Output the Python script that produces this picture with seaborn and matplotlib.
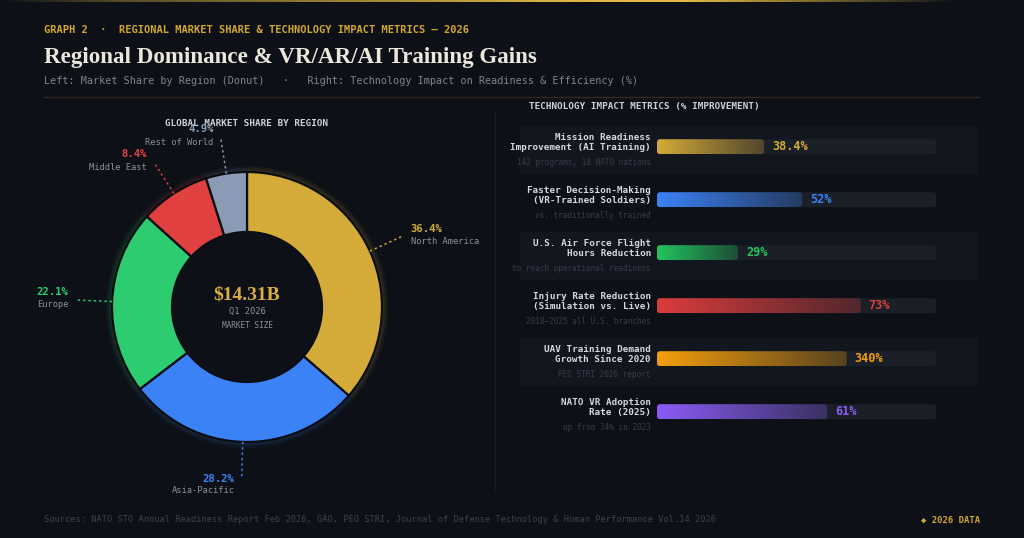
import numpy as np
import pandas as pd
import matplotlib
matplotlib.use("Agg")
import matplotlib.pyplot as plt
import seaborn as sns
from matplotlib.patches import FancyBboxPatch, Rectangle, Circle
import matplotlib.transforms as mtransforms
from matplotlib.colors import to_rgb

# ---------------- data ----------------
regions = ["North America", "Asia-Pacific", "Europe", "Middle East", "Rest of World"]
region_share = [36.4, 28.2, 22.1, 8.4, 4.9]
region_colors = ["#d4aa38", "#3b82f6", "#2ecc71", "#e04040", "#8c9bb5"]

metric_labels = [
    "Mission Readiness\nImprovement (AI Training)",
    "Faster Decision-Making\n(VR-Trained Soldiers)",
    "U.S. Air Force Flight\nHours Reduction",
    "Injury Rate Reduction\n(Simulation vs. Live)",
    "UAV Training Demand\nGrowth Since 2020",
    "NATO VR Adoption\nRate (2025)",
]
metric_notes = [
    "142 programs, 18 NATO nations",
    "vs. traditionally trained",
    "to reach operational readiness",
    "2018\u20132025 all U.S. branches",
    "PEO STRI 2026 report",
    "up from 34% in 2023",
]
metric_values = [38.4, 52, 29, 73, 340, 61]
metric_value_text = ["38.4%", "52%", "29%", "73%", "340%", "61%"]
metric_fill = [38.4, 52, 29, 73, 68, 61]   # bar fill as % of track (UAV on a 500% scale)
metric_colors = ["#d4aa38", "#3b82f6", "#22c55e", "#dc3c3c", "#f59e0b", "#8b5cf6"]
track_max = [100] * 6

# ---------------- style ----------------
BG = "#0d1117"
TRACK = "#1b1f28"
BAND = "#12161e"
GOLD = "#d4a72c"
MONO = "DejaVu Sans Mono"
SERIF = "Liberation Serif"

sns.set_theme(style="dark", rc={"axes.facecolor": BG, "figure.facecolor": BG})
plt.rcParams["font.family"] = ["DejaVu Sans Mono", "DejaVu Sans"]

W, H = 1024, 538
fig = plt.figure(figsize=(W / 100, H / 100), dpi=100, facecolor=BG)

# background/pixel axes
bg = fig.add_axes([0, 0, 1, 1], zorder=-5)
bg.set_xlim(0, W)
bg.set_ylim(H, 0)
bg.axis("off")

# top gold gradient line
xs = np.linspace(0, W, 512)
alpha_top = np.interp(xs, [0, 120, 560, 680, 960, W], [0.0, 0.35, 0.95, 1.0, 0.0, 0.0])
top_img = np.zeros((1, 512, 4))
top_img[..., :3] = to_rgb("#e8bd45")
top_img[..., 3] = alpha_top
bg.imshow(top_img, extent=[0, W, 2.5, 0], aspect="auto", interpolation="bilinear")
bg.set_xlim(0, W)
bg.set_ylim(H, 0)

# header texts
bg.text(44, 30, "GRAPH 2  \u00b7  REGIONAL MARKET SHARE & TECHNOLOGY IMPACT METRICS \u2014 2026",
        color=GOLD, fontsize=7.45, fontweight="bold", family=MONO, va="center", ha="left")
bg.text(44, 57, "Regional Dominance & VR/AR/AI Training Gains", color="#ece7dc",
        fontsize=16.6, fontweight="bold", family=SERIF, va="center", ha="left")
bg.text(44, 81, "Left: Market Share by Region (Donut)   \u00b7   Right: Technology Impact on Readiness & Efficiency (%)",
        color="#7d8592", fontsize=7.3, family=MONO, va="center", ha="left")
bg.plot([44, 979], [97, 97], color="#2f2a1c", lw=1)

# vertical divider
bg.plot([495, 495], [112, 490], color="#181c24", lw=1)

# panel titles
bg.text(247, 123, "GLOBAL MARKET SHARE BY REGION", color="#cfd2d8", fontsize=6.7,
        fontweight="bold", family=MONO, ha="center", va="center", zorder=10)
bg.text(529, 107, "TECHNOLOGY IMPACT METRICS (% IMPROVEMENT)", color="#cfd2d8", fontsize=6.7,
        fontweight="bold", family=MONO, ha="left", va="center")

# footer
bg.text(44, 520, "Sources: NATO STO Annual Readiness Report Feb 2026, GAO, PEO STRI, Journal of Defense Technology & Human Performance Vol.14 2026",
        color="#3b424e", fontsize=6.2, family=MONO, ha="left", va="center")
bg.text(980, 520, "\u25c6 2026 DATA", color=GOLD, fontsize=6.4, fontweight="bold",
        family=["DejaVu Sans Mono", "DejaVu Sans"], ha="right", va="center")

# ---------------- donut ----------------
cx, cy, R = 247, 307, 170
dax = fig.add_axes([(cx - R) / W, 1 - (cy + R) / H, 2 * R / W, 2 * R / H])
dax.set_xlim(-R, R)
dax.set_ylim(-R, R)
dax.set_aspect("equal")
dax.axis("off")

outer, ring = 135, 60
# soft glow
for k, a in [(6, 0.05), (4, 0.07), (2, 0.10)]:
    gw, _ = dax.pie(region_share, colors=region_colors, startangle=90, counterclock=False,
                    radius=outer + k, wedgeprops=dict(width=ring + 2 * k, linewidth=0))
    for w in gw:
        w.set_alpha(a)
wedges, _ = dax.pie(region_share, colors=region_colors, startangle=90, counterclock=False,
                    radius=outer, wedgeprops=dict(width=ring, edgecolor="#0a0d12", linewidth=1.6))
dax.add_patch(Circle((0, 0), outer - ring - 0.3, facecolor=BG, edgecolor="none", zorder=5))
dax.set_xlim(-R, R)
dax.set_ylim(-R, R)

for w, name, share, col in zip(wedges, regions, region_share, region_colors):
    ang = np.deg2rad((w.theta1 + w.theta2) / 2)
    c, s = np.cos(ang), np.sin(ang)
    r1, r2 = outer, 172
    dax.plot([r1 * c, r2 * c], [r1 * s, r2 * s], color=col, lw=1.1,
             ls=(0, (1.5, 2)), clip_on=False)
    ex, ey = r2 * c, r2 * s
    if abs(c) < 0.2 and s < 0:
        ha, tx = "right", ex - 7
        py, ny = ey - 0, ey - 12
    elif c >= 0:
        ha, tx = "left", ex + 7
        py, ny = ey + 7, ey - 6
    else:
        ha, tx = "right", ex - 7
        py, ny = ey + 8, ey - 5
    dax.text(tx, py, f"{share}%", color=col, fontsize=7.7, fontweight="bold",
             family=MONO, ha=ha, va="center", clip_on=False)
    dax.text(tx, ny, name, color="#8a919c", fontsize=6.3, family=MONO,
             ha=ha, va="center", clip_on=False)

dax.text(0, 12, "$14.31B", color="#d9ae3e", fontsize=14, fontweight="bold", family=SERIF,
         ha="center", va="center", zorder=6)
dax.text(0, -4, "Q1 2026", color="#8a919c", fontsize=6.3, family=MONO, ha="center", va="center",
         zorder=6)
dax.text(0, -18, "MARKET SIZE", color="#8a919c", fontsize=5.6, family=MONO, ha="center",
         va="center", zorder=6)

# ---------------- bars ----------------
row_h = 53.0
first_c = 146.7
top_px = first_c - row_h / 2
bot_px = top_px + row_h * len(metric_labels)
ax = fig.add_axes([657 / W, 1 - bot_px / H, 279 / W, (bot_px - top_px) / H])

df = pd.DataFrame({"metric": metric_labels, "track": track_max, "fill": metric_fill})
bar_w = 15 / row_h
sns.barplot(data=df, x="track", y="metric", orient="h", color=TRACK, width=bar_w, ax=ax,
            saturation=1)
n_track = len(ax.patches)
sns.barplot(data=df, x="fill", y="metric", hue="metric", palette=metric_colors, orient="h",
            width=bar_w, ax=ax, legend=False, saturation=1)
ax.set_xlim(0, 100)
ax.set_ylim(len(metric_labels) - 0.5, -0.5)
ax.axis("off")

px_x = 100 / 279.0
px_y = 1 / row_h
rad = 3
maspect = (rad * px_y) / (rad * px_x)
patches = list(ax.patches)
track_p, fill_p = patches[:n_track], patches[n_track:]

for p in track_p:
    x0, y0, w_, h_ = p.get_x(), p.get_y(), p.get_width(), p.get_height()
    p.set_visible(False)
    ax.add_patch(FancyBboxPatch((x0, y0), w_, h_,
                                boxstyle=f"round,pad=0,rounding_size={rad * px_x}",
                                mutation_aspect=maspect, facecolor=TRACK, edgecolor="none",
                                zorder=1))

fill_sorted = sorted(fill_p, key=lambda p: p.get_y())
for i, p in enumerate(fill_sorted):
    x0, y0, w_, h_ = p.get_x(), p.get_y(), p.get_width(), p.get_height()
    p.set_visible(False)
    col = np.array(to_rgb(metric_colors[i]))
    dark = np.array(to_rgb(TRACK))
    t = np.linspace(0, 0.72, 256)[:, None]
    img = (col * (1 - t) + dark * t)[None, :, :]
    clip = FancyBboxPatch((x0, y0), w_, h_, boxstyle=f"round,pad=0,rounding_size={rad * px_x}",
                          mutation_aspect=maspect, facecolor="none", edgecolor="none",
                          transform=ax.transData)
    ax.add_patch(clip)
    im = ax.imshow(img, extent=[x0, x0 + w_, y0 + h_, y0], aspect="auto", zorder=2,
                   interpolation="bilinear")
    im.set_clip_path(clip)
    # value label
    tr = mtransforms.offset_copy(ax.transData, fig=fig, x=8, y=0, units="dots")
    ax.text(x0 + w_, y0 + h_ / 2, metric_value_text[i], color=metric_colors[i], fontsize=8.6,
            fontweight="bold", family=MONO, ha="left", va="center", transform=tr)

ax.set_xlim(0, 100)
ax.set_ylim(len(metric_labels) - 0.5, -0.5)

blend = mtransforms.blended_transform_factory(ax.transAxes, ax.transData)
band_tr = mtransforms.blended_transform_factory(bg.transData, ax.transData)
for i, (lab, note) in enumerate(zip(metric_labels, metric_notes)):
    if i % 2 == 0:
        ax.add_patch(Rectangle((520, i - 21 / row_h), 458, 48 / row_h, transform=band_tr,
                               facecolor=BAND, edgecolor="none", zorder=-1, clip_on=False))
    t1 = blend + mtransforms.ScaledTranslation(-6 / 100, 4.5 / 100, fig.dpi_scale_trans)
    ax.text(0, i, lab, transform=t1, ha="right", va="center", color="#d6d8dc", fontsize=6.7,
            fontweight="bold", family=MONO, linespacing=1.15, clip_on=False)
    t2 = blend + mtransforms.ScaledTranslation(-6 / 100, -15.5 / 100, fig.dpi_scale_trans)
    ax.text(0, i, note, transform=t2, ha="right", va="center", color="#363c48", fontsize=5.5,
            family=MONO, clip_on=False)

fig.savefig("out.png", dpi=100, facecolor=BG)
